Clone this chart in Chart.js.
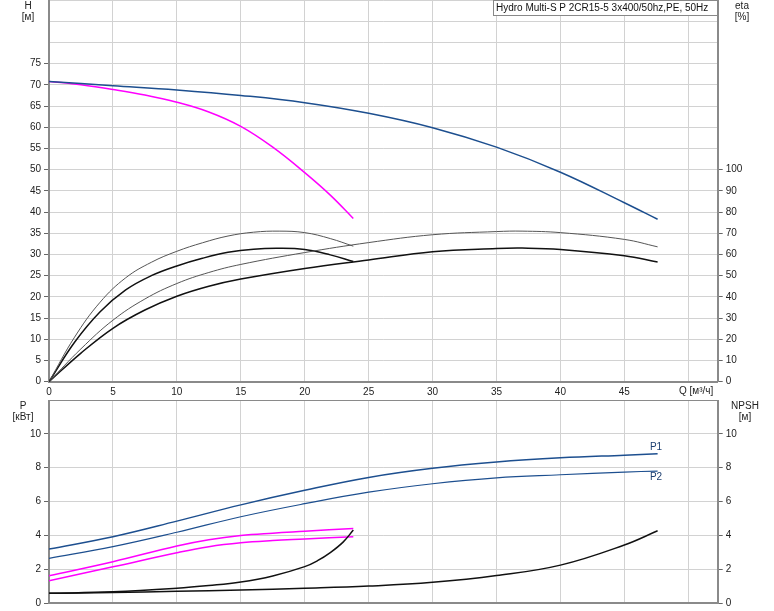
<!DOCTYPE html>
<html>
<head>
<meta charset="utf-8">
<script src="https://cdn.jsdelivr.net/npm/chart.js@4.4.1/dist/chart.umd.min.js"></script>
<style>
  html, body { margin: 0; padding: 0; background: #fff; }
  #wrap { position: relative; width: 774px; height: 611px; background: #fff; overflow: hidden; }
  canvas { position: absolute; left: 0; }
</style>
</head>
<body>
<div id="wrap">
  <canvas id="top" width="774" height="400" style="top:0;width:774px;height:400px"></canvas>
  <canvas id="bot" width="774" height="211" style="top:400px;width:774px;height:211px"></canvas>
</div>
<script>
// ---------- DATA ----------
const title = 'Hydro Multi-S P 2CR15-5 3x400/50hz,PE, 50Hz';
const qTicks = [0, 5, 10, 15, 20, 25, 30, 35, 40, 45, 50];
const hTicks = [0, 5, 10, 15, 20, 25, 30, 35, 40, 45, 50, 55, 60, 65, 70, 75, 80, 85, 90];
const etaTicks = [0, 10, 20, 30, 40, 50, 60, 70, 80, 90, 100];
const pTicks = [0, 2, 4, 6, 8, 10, 12];
const npshTicks = [0, 2, 4, 6, 8, 10];

// Head, full speed (blue)
const qHFull = [0, 5, 10, 15, 20, 25, 30, 35, 40, 45, 47.6];
const hFull  = [70.8, 69.8, 68.8, 67.5, 65.8, 63.3, 59.9, 55.3, 49.4, 42.2, 38.3];
// Head, reduced (magenta)
const qHRed = [0, 2.5, 5, 7.5, 10, 12.5, 15, 17.5, 20, 22, 23.8];
const hRed  = [70.8, 70.0, 68.9, 67.6, 65.9, 63.6, 60.2, 55.3, 49.3, 44.0, 38.5];

// Efficiency curves
const qEtaRed  = [0, 2, 4, 6, 8, 10, 12, 14, 16, 18, 20, 22, 23.8];
const etaRedHi = [0, 21.0, 37.5, 49.0, 56.3, 61.5, 65.5, 68.7, 70.5, 71.0, 70.3, 67.5, 63.9];
const etaRedLo = [0, 18.6, 33.0, 43.3, 50.0, 54.6, 58.2, 61.0, 62.5, 62.9, 62.3, 59.8, 56.7];
const qEtaFull  = [0, 2.5, 5, 7.5, 10, 12.5, 15, 20, 25, 30, 35, 37, 40, 45, 47.6];
const etaFullHi = [0, 15.5, 29.0, 39.0, 46.3, 51.5, 55.3, 60.9, 65.6, 69.3, 70.8, 71.0, 70.3, 67.1, 63.6];
const etaFullLo = [0, 13.5, 25.2, 33.8, 40.3, 45.0, 48.4, 53.4, 57.4, 61.3, 62.8, 63.0, 62.4, 59.4, 56.4];

// Power, full speed (blue)
const qPFull = [0, 5, 10, 15, 20, 25, 30, 35, 40, 45, 47.6];
const p1Full = [3.19, 3.92, 4.84, 5.80, 6.66, 7.42, 7.96, 8.33, 8.58, 8.74, 8.82];
const p2Full = [2.64, 3.33, 4.18, 5.10, 5.87, 6.55, 7.05, 7.40, 7.58, 7.74, 7.80];
// Power, reduced (magenta)
const qPRed = [0, 5, 10, 12.5, 15, 17.5, 20, 23.8];
const p1Red = [1.61, 2.44, 3.37, 3.74, 3.99, 4.13, 4.24, 4.41];
const p2Red = [1.32, 2.14, 2.97, 3.33, 3.56, 3.69, 3.78, 3.92];
// NPSH
const qNpshRed = [0, 5, 10, 12.5, 15, 17.5, 20, 21, 22, 23, 23.8];
const npshRed  = [0.57, 0.66, 0.87, 1.03, 1.24, 1.60, 2.15, 2.50, 2.98, 3.60, 4.31];
const qNpshFull = [0, 5, 10, 15, 20, 25, 30, 35, 40, 45, 47.6];
const npshFull  = [0.57, 0.62, 0.69, 0.77, 0.87, 1.00, 1.22, 1.62, 2.24, 3.43, 4.27];

// ---------- HELPERS ----------
const pts = (xs, ys) => xs.map((x, i) => ({ x: x, y: ys[i] }));
const FONT = "'Liberation Sans', Arial, sans-serif";
Chart.defaults.font.family = FONT;
Chart.defaults.font.size = 10;
Chart.defaults.color = '#222';

const GRID = '#d2d2d2';
const AXIS = '#8a8a8a';
const BLUE = '#1d4f8f';
const MAG = '#ff00ff';
const QMAX = 52.3;

function line(data, color, width, yAxisID) {
  return {
    data: data, borderColor: color, borderWidth: width, pointRadius: 0,
    fill: false, tension: 0.4, yAxisID: yAxisID
  };
}
function setTicks(arr) {
  return function (scale) { scale.ticks = arr.map(v => ({ value: v })); };
}
function fitY(w) {
  return function (s) { s.width = w; s.paddingTop = 0; s.paddingBottom = 0; };
}
function fitX(h) {
  return function (s) { s.height = h; s.paddingLeft = 0; s.paddingRight = 0; };
}

const textPlugin = {
  id: 'texts',
  afterDraw(chart, args, opts) {
    const ctx = chart.ctx;
    ctx.save();
    (opts.items || []).forEach(it => {
      ctx.font = (it.size || 10) + 'px ' + FONT;
      ctx.fillStyle = it.color || '#222';
      ctx.textAlign = it.align || 'center';
      ctx.textBaseline = 'middle';
      if (it.box) {
        ctx.fillStyle = '#fff';
        ctx.fillRect(it.box[0], it.box[1], it.box[2], it.box[3]);
        ctx.strokeStyle = '#888';
        ctx.lineWidth = 1;
        ctx.strokeRect(it.box[0] + 0.5, it.box[1] + 0.5, it.box[2] - 1, it.box[3] - 1);
        ctx.fillStyle = it.color || '#111';
      }
      ctx.fillText(it.text, it.x, it.y);
    });
    ctx.restore();
  }
};

// ---------- TOP CHART ----------
new Chart(document.getElementById('top'), {
  type: 'line',
  data: {
    datasets: [
      line(pts(qEtaFull, etaFullHi), '#555', 1, 'yEta'),
      line(pts(qEtaFull, etaFullLo), '#111', 1.5, 'yEta'),
      line(pts(qEtaRed, etaRedHi), '#555', 1, 'yEta'),
      line(pts(qEtaRed, etaRedLo), '#111', 1.5, 'yEta'),
      line(pts(qHFull, hFull), BLUE, 1.5, 'yH'),
      line(pts(qHRed, hRed), MAG, 1.5, 'yH')
    ]
  },
  options: {
    responsive: false, animation: false, devicePixelRatio: 1,
    layout: { padding: 0 },
    plugins: {
      legend: { display: false }, tooltip: { enabled: false },
      texts: {
        items: [
          { text: 'H', x: 28, y: 6 },
          { text: '[м]', x: 28, y: 17 },
          { text: 'eta', x: 742, y: 6 },
          { text: '[%]', x: 742, y: 17 },
          { text: 'Q [м³/ч]', x: 679, y: 391.5, align: 'left' },
          { text: title, x: 496, y: 8, align: 'left', box: [493, 0, 225, 16] }
        ]
      }
    },
    scales: {
      x: {
        type: 'linear', min: 0, max: QMAX,
        afterBuildTicks: setTicks(qTicks),
        afterFit: fitX(18.3),
        ticks: { padding: 1, maxRotation: 0, autoSkip: false, callback: v => (v <= 45 ? v : '') },
        grid: { color: GRID, lineWidth: 1, tickLength: 4, tickColor: 'transparent' },
        border: { color: AXIS, width: 2 }
      },
      yH: {
        type: 'linear', position: 'left', min: 0, max: 90,
        afterBuildTicks: setTicks(hTicks),
        afterFit: fitY(49),
        ticks: { padding: 3, autoSkip: false, callback: v => (v <= 75 ? v : '') },
        grid: { color: GRID, lineWidth: 1, tickLength: 5, tickColor: c => (c.tick && c.tick.value <= 75 ? '#666' : 'transparent') },
        border: { color: AXIS, width: 2 }
      },
      yEta: {
        type: 'linear', position: 'right', min: 0, max: 180,
        afterBuildTicks: setTicks(etaTicks),
        afterFit: fitY(56.3),
        ticks: { padding: 3, autoSkip: false },
        grid: { drawOnChartArea: false, tickLength: 5, tickColor: '#666' },
        border: { color: AXIS, width: 2 }
      }
    }
  },
  plugins: [textPlugin]
});

// ---------- BOTTOM CHART ----------
new Chart(document.getElementById('bot'), {
  type: 'line',
  data: {
    datasets: [
      line(pts(qNpshFull, npshFull), '#111', 1.5, 'yN'),
      line(pts(qNpshRed, npshRed), '#111', 1.5, 'yN'),
      line(pts(qPRed, p1Red), MAG, 1.5, 'yP'),
      line(pts(qPRed, p2Red), MAG, 1.5, 'yP'),
      line(pts(qPFull, p1Full), BLUE, 1.5, 'yP'),
      line(pts(qPFull, p2Full), BLUE, 1.2, 'yP')
    ]
  },
  options: {
    responsive: false, animation: false, devicePixelRatio: 1,
    layout: { padding: 0 },
    plugins: {
      legend: { display: false }, tooltip: { enabled: false },
      texts: {
        items: [
          { text: 'P', x: 23, y: 6 },
          { text: '[кВт]', x: 23, y: 17 },
          { text: 'NPSH', x: 745, y: 6 },
          { text: '[м]', x: 745, y: 17 },
          { text: 'P1', x: 656, y: 47.5, color: '#1d3f70' },
          { text: 'P2', x: 656, y: 77.5, color: '#1d3f70' }
        ]
      }
    },
    scales: {
      x: {
        type: 'linear', min: 0, max: QMAX,
        afterBuildTicks: setTicks(qTicks),
        afterFit: fitX(8),
        ticks: { display: false },
        grid: { color: GRID, lineWidth: 1, tickLength: 0 },
        border: { color: AXIS, width: 2 }
      },
      yP: {
        type: 'linear', position: 'left', min: 0, max: 12,
        afterBuildTicks: setTicks(pTicks),
        afterFit: fitY(49),
        ticks: { padding: 3, autoSkip: false, callback: v => (v <= 10 ? v : '') },
        grid: {
          color: c => (c.tick && c.tick.value >= 12 ? AXIS : GRID),
          lineWidth: c => (c.tick && c.tick.value >= 12 ? 2 : 1),
          tickLength: 5,
          tickColor: c => (c.tick && c.tick.value <= 10 ? '#666' : 'transparent')
        },
        border: { color: AXIS, width: 2 }
      },
      yN: {
        type: 'linear', position: 'right', min: 0, max: 12,
        afterBuildTicks: setTicks(npshTicks),
        afterFit: fitY(56.3),
        ticks: { padding: 3, autoSkip: false },
        grid: { drawOnChartArea: false, tickLength: 5, tickColor: '#666' },
        border: { color: AXIS, width: 2 }
      }
    }
  },
  plugins: [textPlugin]
});
</script>
</body>
</html>
